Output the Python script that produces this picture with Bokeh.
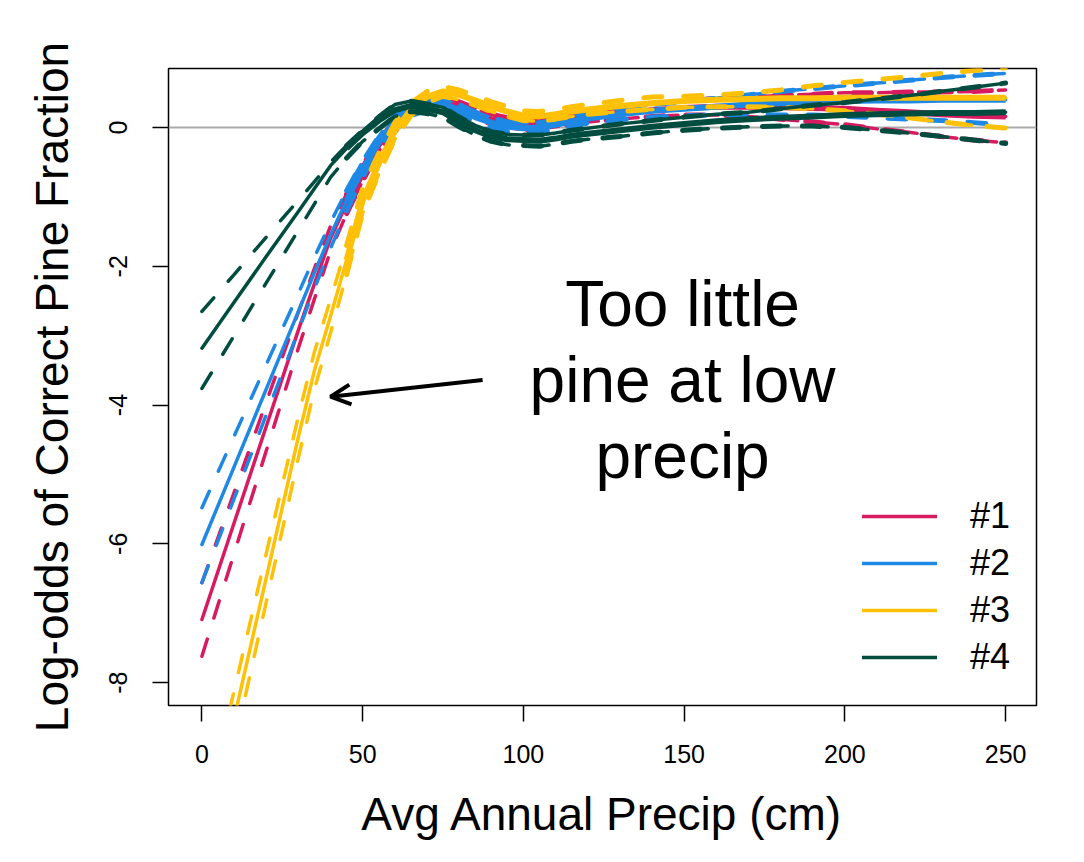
import numpy as np
from bokeh.plotting import figure
from bokeh.models import (Range1d, FixedTicker, Span, Label, Arrow, OpenHead,
                          Legend, LegendItem)
from bokeh.embed import file_html
from bokeh.resources import INLINE

# ---------------- data ----------------
precip = [0, 10, 20, 30, 35, 40, 45, 50, 55, 60, 65, 70, 75, 80, 85, 90, 95, 100,
          105, 110, 115, 120, 130, 140, 150, 160, 170, 180, 190, 200, 210, 220,
          230, 240, 250]

fit1 = [-7.09, -5.70, -4.31, -2.92, -2.25, -1.60, -1.10, -0.66, -0.25, 0.02, 0.25, 0.36,
        0.38, 0.30, 0.21, 0.12, 0.07, 0.04, 0.05, 0.08, 0.12, 0.15, 0.20, 0.25, 0.28,
        0.30, 0.30, 0.29, 0.28, 0.27, 0.24, 0.22, 0.19, 0.17, 0.16]
hi1 = [-6.56, -5.26, -3.96, -2.66, -2.03, -1.42, -0.96, -0.55, -0.16, 0.10, 0.32, 0.43,
       0.45, 0.37, 0.28, 0.19, 0.14, 0.11, 0.12, 0.15, 0.19, 0.22, 0.28, 0.34, 0.38,
       0.42, 0.44, 0.46, 0.48, 0.50, 0.50, 0.51, 0.51, 0.52, 0.54]
lo1 = [-7.62, -6.14, -4.66, -3.18, -2.47, -1.78, -1.24, -0.77, -0.34, -0.06, 0.18, 0.29,
       0.31, 0.23, 0.14, 0.05, 0.00, -0.03, -0.02, 0.01, 0.05, 0.08, 0.12, 0.16, 0.18,
       0.18, 0.16, 0.12, 0.08, 0.04, -0.02, -0.07, -0.13, -0.18, -0.22]

fit2 = [-6.01, -4.89, -3.77, -2.65, -2.09, -1.55, -1.05, -0.60, -0.22, 0.10, 0.24, 0.32,
        0.33, 0.26, 0.15, 0.07, 0.01, -0.01, 0.00, 0.04, 0.09, 0.13, 0.19, 0.24, 0.27,
        0.30, 0.33, 0.35, 0.37, 0.38, 0.39, 0.39, 0.40, 0.40, 0.40]
hi2 = [-5.48, -4.45, -3.42, -2.39, -1.87, -1.37, -0.91, -0.49, -0.13, 0.18, 0.31, 0.39,
       0.40, 0.33, 0.22, 0.14, 0.08, 0.06, 0.07, 0.11, 0.16, 0.20, 0.27, 0.33, 0.37,
       0.42, 0.47, 0.52, 0.56, 0.60, 0.64, 0.68, 0.72, 0.75, 0.78]
lo2 = [-6.56, -5.35, -4.14, -2.93, -2.32, -1.74, -1.20, -0.71, -0.31, 0.02, 0.17, 0.25,
       0.26, 0.19, 0.08, 0.00, -0.06, -0.08, -0.07, -0.03, 0.02, 0.06, 0.11, 0.15, 0.17,
       0.18, 0.19, 0.18, 0.18, 0.16, 0.14, 0.12, 0.10, 0.07, 0.04]

fit3 = [-10.55, -8.52, -6.49, -4.46, -3.50, -2.72, -1.91, -1.05, -0.52, -0.05, 0.26, 0.44,
        0.52, 0.47, 0.39, 0.30, 0.23, 0.17, 0.16, 0.19, 0.23, 0.26, 0.31, 0.35, 0.38,
        0.40, 0.41, 0.42, 0.42, 0.43, 0.43, 0.43, 0.43, 0.43, 0.43]
hi3 = [-10.10, -8.12, -6.14, -4.16, -3.23, -2.48, -1.70, -0.87, -0.37, 0.07, 0.35, 0.52,
       0.59, 0.54, 0.46, 0.37, 0.30, 0.24, 0.23, 0.26, 0.30, 0.33, 0.39, 0.44, 0.45,
       0.47, 0.50, 0.54, 0.60, 0.65, 0.69, 0.73, 0.78, 0.82, 0.86]
lo3 = [-11.00, -8.92, -6.84, -4.76, -3.77, -2.96, -2.12, -1.23, -0.67, -0.17, 0.17, 0.36,
       0.45, 0.40, 0.32, 0.23, 0.16, 0.10, 0.09, 0.12, 0.16, 0.19, 0.23, 0.26, 0.29,
       0.30, 0.30, 0.29, 0.27, 0.24, 0.19, 0.14, 0.08, 0.03, -0.01]

fit4 = [-3.18, -2.52, -1.86, -1.21, -0.88, -0.55, -0.30, -0.08, 0.10, 0.25, 0.31, 0.27,
        0.22, 0.08, -0.04, -0.13, -0.17, -0.18, -0.19, -0.16, -0.12, -0.09, -0.04, 0.01,
        0.05, 0.09, 0.12, 0.14, 0.16, 0.18, 0.19, 0.20, 0.21, 0.21, 0.22]
hi4 = [-2.65, -2.12, -1.58, -1.05, -0.78, -0.50, -0.26, -0.05, 0.15, 0.33, 0.38, 0.34,
       0.29, 0.15, 0.03, -0.06, -0.10, -0.11, -0.11, -0.08, -0.04, -0.01, 0.05, 0.10,
       0.15, 0.19, 0.22, 0.27, 0.32, 0.36, 0.41, 0.46, 0.52, 0.58, 0.64]
lo4 = [-3.76, -3.00, -2.24, -1.48, -1.10, -0.72, -0.44, -0.20, -0.02, 0.16, 0.23, 0.20,
       0.15, 0.01, -0.11, -0.20, -0.25, -0.26, -0.27, -0.24, -0.20, -0.17, -0.13, -0.08,
       -0.04, -0.01, 0.01, 0.02, 0.02, 0.00, -0.04, -0.08, -0.13, -0.18, -0.23]

labels = ["#1", "#2", "#3", "#4"]
colors = ["#D81B60", "#1E88E5", "#FFC107", "#004D40"]
x_ticks = [0, 50, 100, 150, 200, 250]
y_ticks = [-8, -6, -4, -2, 0]

# ---------------- figure ----------------
FONT = "Liberation Sans, Arial, Helvetica, sans-serif"
W, H = 1084, 862

p = figure(width=W, height=H, output_backend="svg", toolbar_location=None,
           x_range=Range1d(-10.4, 259.6), y_range=Range1d(-8.33, 0.85),
           min_border_left=168, min_border_right=48, min_border_top=68,
           min_border_bottom=157)
p.grid.visible = False
p.background_fill_color = "white"
p.border_fill_color = "white"
p.outline_line_color = "black"
p.outline_line_width = 1.5

for ax in (p.xaxis[0], p.yaxis[0]):
    ax.axis_line_color = None
    ax.major_tick_out = 16
    ax.major_tick_in = 0
    ax.minor_tick_line_color = None
    ax.major_tick_line_color = "black"
    ax.major_tick_line_width = 1.5
    ax.major_label_text_font = FONT
    ax.major_label_text_font_size = "25px"
    ax.major_label_text_color = "black"
    ax.axis_label_text_font = FONT
    ax.axis_label_text_font_size = "46px"
    ax.axis_label_text_font_style = "normal"
    ax.axis_label_text_color = "black"

p.xaxis.ticker = FixedTicker(ticks=x_ticks)
p.xaxis.major_label_overrides = {t: str(t) for t in x_ticks}
p.xaxis.axis_label = "Avg Annual Precip (cm)"
p.xaxis.major_label_standoff = 23
p.xaxis.axis_label_standoff = 22

p.yaxis.ticker = FixedTicker(ticks=y_ticks)
p.yaxis.major_label_overrides = {t: str(t) for t in y_ticks}
p.yaxis.major_label_orientation = "vertical"
p.yaxis.axis_label = "Log-odds of Correct Pine Fraction"
p.yaxis.major_label_standoff = 25
p.yaxis.axis_label_standoff = 29

p.add_layout(Span(location=0, dimension="width", line_color="#aaaaaa",
                  line_width=2, level="underlay"))

x_arr = np.array(precip, dtype=float)
hi_mask = x_arr >= 45
series = [(fit1, lo1, hi1), (fit2, lo2, hi2), (fit3, lo3, hi3), (fit4, lo4, hi4)]
legend_items = []
for (fit, lo, hi), lab, col in zip(series, labels, colors):
    fit_a, lo_a, hi_a = (np.array(v, dtype=float) for v in (fit, lo, hi))
    for band in (lo_a, hi_a):
        p.line(x_arr, band, line_color=col, line_width=3.5, line_dash="18 22",
               line_cap="round")
        p.line(x_arr[hi_mask], band[hi_mask], line_color=col, line_width=5,
               line_dash="18 22", line_cap="round")
    r = p.line(x_arr, fit_a, line_color=col, line_width=3.5, line_cap="round",
               line_join="round")
    p.line(x_arr[hi_mask], fit_a[hi_mask], line_color=col, line_width=6,
           line_join="round")
    legend_items.append(LegendItem(label=lab, renderers=[r]))

legend = Legend(items=legend_items, location=(694, 27), padding=0, margin=0,
                border_line_color=None, background_fill_alpha=0,
                glyph_width=75, glyph_height=40, label_height=40, spacing=5,
                label_standoff=33, label_text_font=FONT,
                label_text_font_size="36px", label_text_color="black")
p.add_layout(legend)

# annotation
for txt, yy in (("Too little", -2.54), ("pine at low", -3.635), ("precip", -4.73)):
    p.add_layout(Label(x=149.5, y=yy, text=txt, text_align="center",
                       text_baseline="alphabetic", text_font=FONT,
                       text_font_size="64px", text_color="black"))

p.add_layout(Arrow(x_start=87.3, y_start=-3.64, x_end=40.0, y_end=-3.88,
                   line_color="black", line_width=4,
                   end=OpenHead(size=20, line_width=4, line_color="black")))

open("out.html", "w").write(file_html(p, INLINE))
